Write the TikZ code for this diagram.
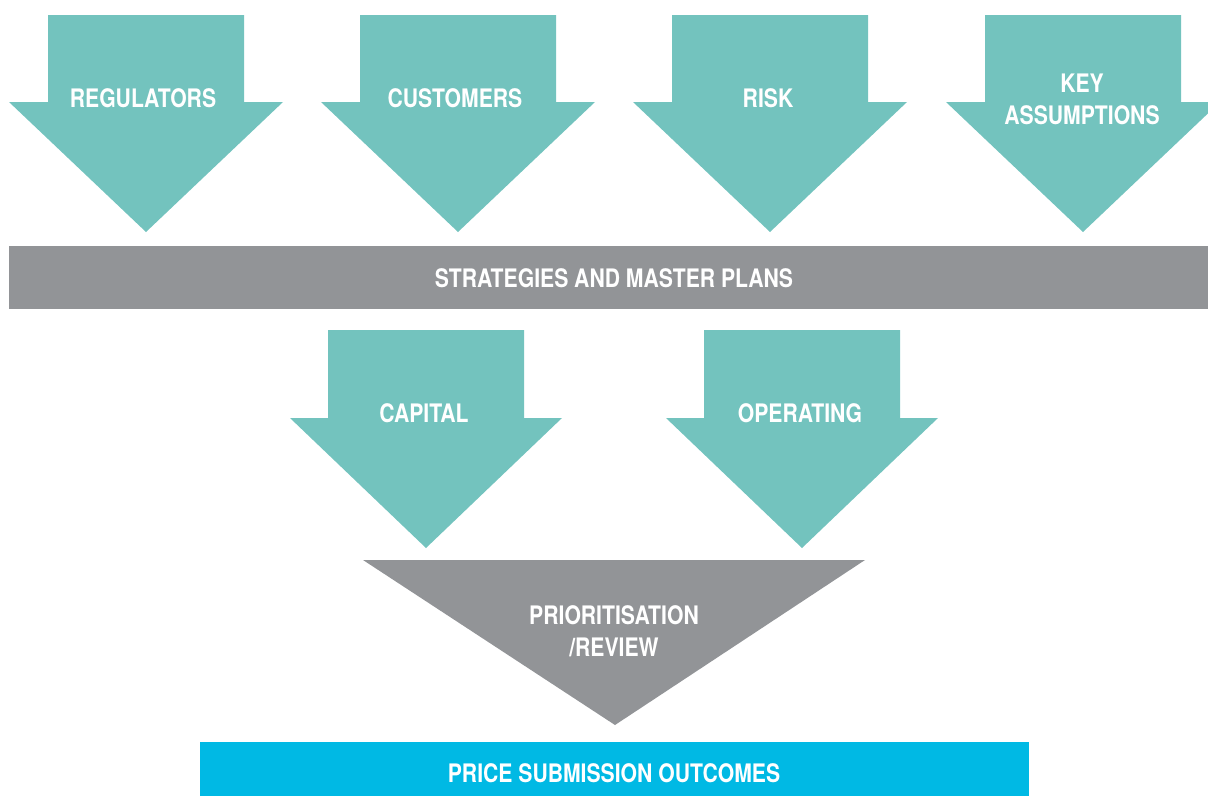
\documentclass[tikz,border=0pt]{standalone}
\usepackage{fontspec}
\setmainfont{TeX Gyre Heros}[FakeStretch=0.83]
\definecolor{tealfill}{HTML}{73C3BE}
\definecolor{greyfill}{HTML}{929497}
\definecolor{bluefill}{HTML}{00B9E4}
\begin{document}
\begin{tikzpicture}[x=1pt,y=-1pt,
  lbl/.style={text=white,font=\fontsize{25.5}{32}\selectfont\bfseries,align=center,inner sep=0pt},
  tealarrow/.style={fill=tealfill,draw=none},
  greyshape/.style={fill=greyfill,draw=none},
  blueshape/.style={fill=bluefill,draw=none}]
\useasboundingbox (0,0) rectangle (1208,796);
% down arrow: centre x, top y, head y, tip y, shaft half width, head half width
\newcommand{\DownArr}[6]{%
  \fill[tealarrow] (#1-#5,#2) -- (#1+#5,#2) -- (#1+#5,#3) -- (#1+#6,#3)
    -- (#1,#4) -- (#1-#6,#3) -- (#1-#5,#3) -- cycle;}
% top row of inputs
\DownArr{146}{15}{102}{232}{98}{137}
\DownArr{458}{15}{102}{232}{98}{137}
\DownArr{770}{15}{102}{232}{98}{137}
\DownArr{1083}{15}{102}{232}{98}{137}
\node[lbl] (reg) at (143,98) {REGULATORS};
\node[lbl] (cust) at (455,98) {CUSTOMERS};
\node[lbl] (risk) at (768,98) {RISK};
\node[lbl] (key) at (1082,99) {KEY\\ASSUMPTIONS};
% strategies band
\fill[greyshape] (9,246) rectangle (1208,309);
\node[lbl] (strat) at (614,278) {STRATEGIES AND MASTER PLANS};
% capital and operating
\DownArr{426}{330}{418}{548}{98}{136}
\DownArr{802}{330}{418}{548}{98}{136}
\node[lbl] (cap) at (424,413) {CAPITAL};
\node[lbl] (op) at (800,413) {OPERATING};
% prioritisation funnel
\fill[greyshape] (363,560) -- (865,560) -- (615,725) -- cycle;
\node[lbl] (prio) at (614,631) {PRIORITISATION\\/REVIEW};
% outcomes band
\fill[blueshape] (200,742) rectangle (1029,796);
\node[lbl] (price) at (614,773) {PRICE SUBMISSION OUTCOMES};
\end{tikzpicture}
\end{document}
